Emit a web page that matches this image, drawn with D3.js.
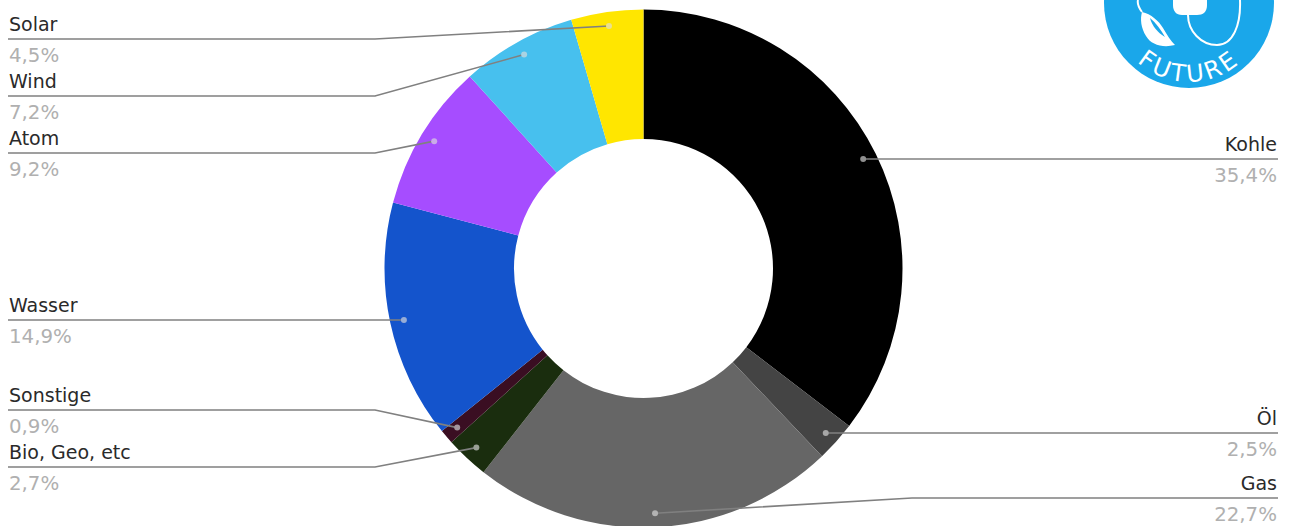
<!DOCTYPE html>
<html><head><meta charset="utf-8">
<script src="https://cdn.jsdelivr.net/npm/d3@7"></script>
<style>html,body{margin:0;padding:0;background:#fff;overflow:hidden}svg{display:block}text{font-family:"DejaVu Sans",sans-serif}</style>
</head><body><svg id="c" width="1290" height="526"></svg>
<script>
const categories=["Kohle","Öl","Gas","Bio, Geo, etc","Sonstige","Wasser","Atom","Wind","Solar"];
const shares=[35.4,2.5,22.7,2.7,0.9,14.9,9.2,7.2,4.5];
const shareLabels=["35,4%","2,5%","22,7%","2,7%","0,9%","14,9%","9,2%","7,2%","4,5%"];
const sliceColors=["#000000","#444444","#666666","#1a2d0e","#3a0e22","#1454cc","#a64dff","#47c0ee","#ffe600"];
const ruleY=[159,433,498,467,410,320,153,96,39];

const svg=d3.select("#c");
const cx=643.5,cy=268.5,R=259,r=129.5,rDot=245;
const g=svg.append("g").attr("transform",`translate(${cx},${cy})`);
const pie=d3.pie().sort(null).value(d=>d.v);
const arcs=pie(categories.map((n,i)=>({n,v:shares[i],i})));
const arc=d3.arc().innerRadius(r).outerRadius(R);
g.selectAll("path").data(arcs).join("path").attr("d",arc).attr("fill",d=>sliceColors[d.data.i]);

const dotArc=d3.arc().innerRadius(rDot).outerRadius(rDot);
arcs.forEach(d=>{
  const [dx,dy]=dotArc.centroid(d);
  const px=cx+dx,py=cy+dy,i=d.data.i,y=ruleY[i];
  const right=(d.startAngle+d.endAngle)/2<Math.PI;
  const edge=right?1278:8, elbow=right?912:375;
  const flat=Math.abs(py-y)<2.5;
  const pts=flat?[[edge,y],[px,y]]:[[edge,y],[elbow,y],[px,py]];
  svg.append("path").attr("d",d3.line()(pts)).attr("fill","none").attr("stroke","#808080").attr("stroke-width",1.6);
  svg.append("circle").attr("cx",px).attr("cy",flat?y:py).attr("r",3).attr("fill",d3.interpolateRgb(sliceColors[i],"#ddd")(.65));
  const anchor=right?"end":"start";
  const tx=right?edge-1:edge+1;
  svg.append("text").attr("x",tx).attr("y",y-8.5).attr("text-anchor",anchor).attr("font-size",19).attr("fill","#2a2a2a").text(categories[i]);
  svg.append("text").attr("x",tx).attr("y",y+23).attr("text-anchor",anchor).attr("font-size",19.8).attr("fill","#b0b0b0").text(shareLabels[i]);
});

// logo
const logo=svg.append("g").attr("transform","translate(1189,3)");
logo.append("circle").attr("r",85).attr("fill","#1aa7ea");
logo.append("path").attr("d","M-47,9 C-38,11 -30,18 -26,25 C-22,32 -18,38 -14,42 C-26,45 -38,42 -43,33 C-48,25 -49,16 -47,9Z").attr("fill","#fff");
logo.append("path").attr("d","M-39,15 C-33,20 -28,27 -24,34 C-31,30 -37,23 -39,15Z").attr("fill","#1aa7ea");
logo.append("path").attr("d","M-47,9 C-50,5 -52,1 -51,-3").attr("fill","none").attr("stroke","#fff").attr("stroke-width",2);
logo.append("path").attr("d","M-16,-5 L18,-5 L18,2 C18,9 14,12 8,12 L-7,12 C-13,12 -16,8 -16,2Z").attr("fill","#fff");
logo.append("path").attr("d","M-1,12 C-1,28 12,42 28,42 C44,42 52,22 51,-3").attr("fill","none").attr("stroke","#fff").attr("stroke-width",2);
logo.append("defs").append("path").attr("id","arcText").attr("d","M-68,39 A78,78 0 0 0 68,39");
logo.append("text").attr("font-size",24).attr("letter-spacing",3).attr("fill","#fff").attr("style","font-family:'DejaVu Sans',sans-serif").append("textPath").attr("href","#arcText").attr("startOffset","50%").attr("text-anchor","middle").text("FUTURE");
</script></body></html>
